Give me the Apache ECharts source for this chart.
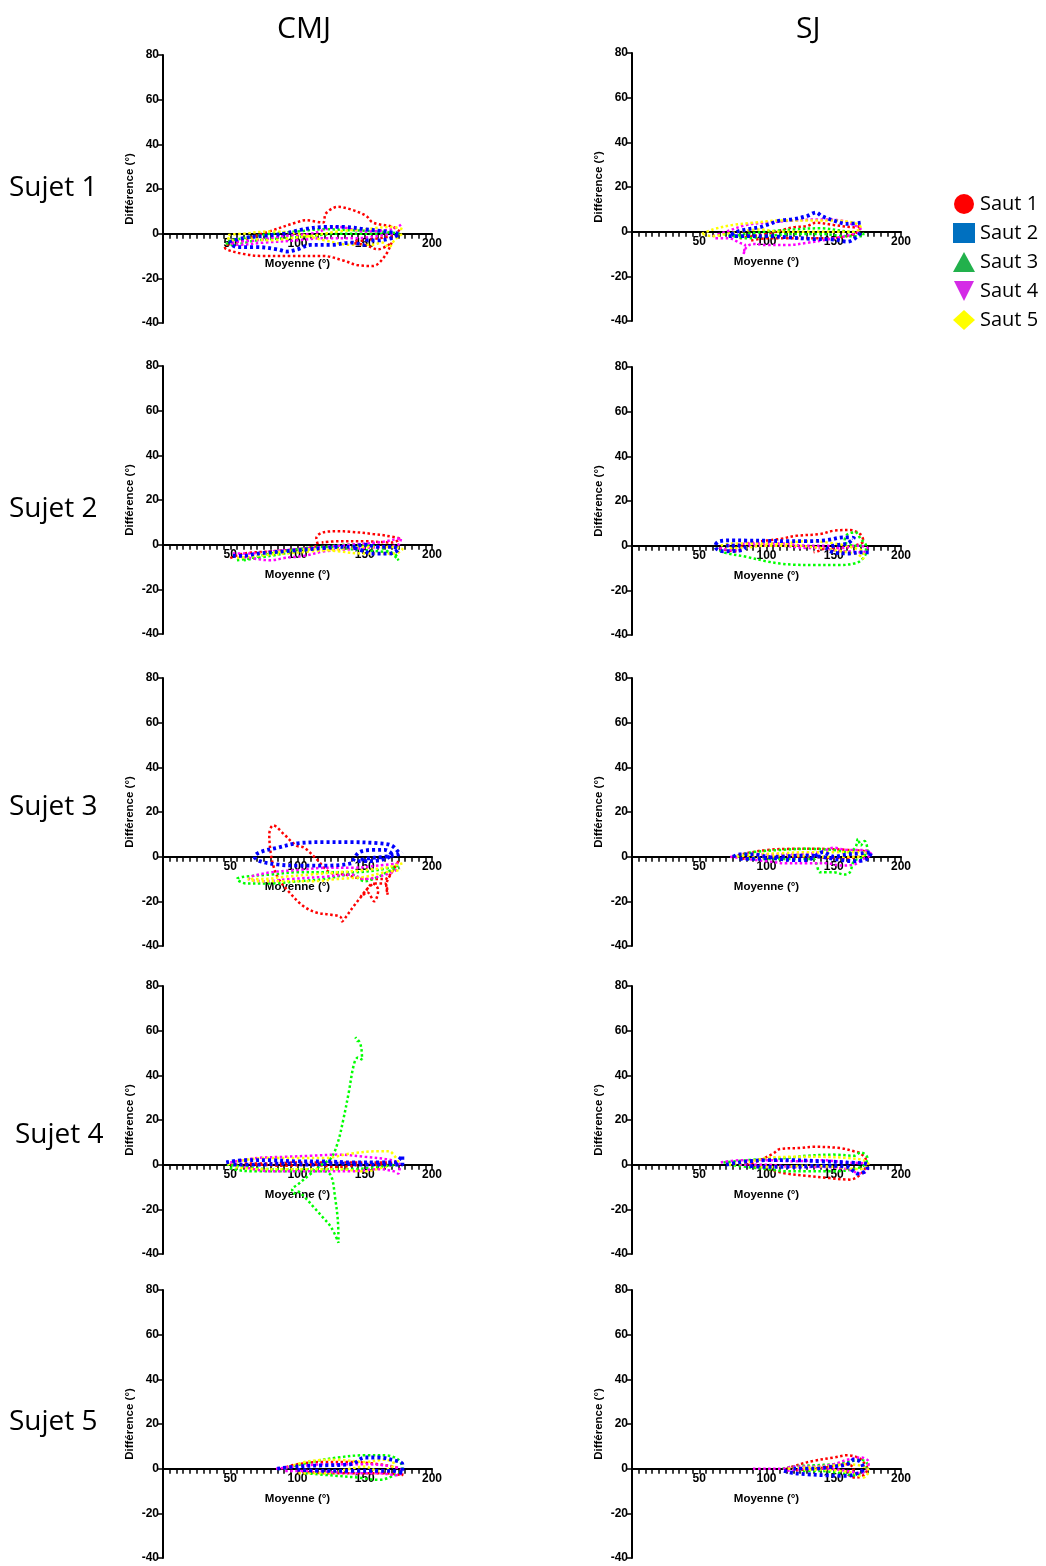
<!DOCTYPE html>
<html>
<head>
<meta charset="utf-8">
<script src="https://cdn.jsdelivr.net/npm/echarts@6/dist/echarts.min.js"></script>
<style>
  html, body { margin: 0; padding: 0; background: #fff; }
  #chart { width: 1046px; height: 1566px; }
</style>
</head>
<body>
<div id="chart"></div>
<script>
// column / row titles
var columnTitles = ["CMJ", "SJ"];
var rowTitles = ["Sujet 1", "Sujet 2", "Sujet 3", "Sujet 4", "Sujet 5"];
var sautNames = ["Saut 1", "Saut 2", "Saut 3", "Saut 4", "Saut 5"];
var sautColors = ["#FF0000", "#0000FF", "#00FF00", "#FF00FF", "#FFFF00"];
var legendColors = ["#FF0000", "#0070C0", "#22B14C", "#D42BE6", "#FFFF00"];
var xTicks = [0, 50, 100, 150, 200];
var yTicks = [-40, -20, 0, 20, 40, 60, 80];

// ---- CMJ, Sujet 1 ----  [moyenne, difference]
var cmj1Saut1 = [[176,1],[171,3],[156,5],[151,8],[139,11],[130,12],[121,9],[119,5],[106,6],[99,5],[79,1],[59,-3],[46,-6],[47,-7],[59,-9],[74,-10],[94,-10],[119,-10],[134,-12],[144,-14],[156,-14.5],[165,-10],[170,-4],[160,-7],[150,-5],[140,-4],[150,-3],[173,-1]];
var cmj1Saut2 = [[175,0],[165,1],[150,2],[135,3],[120,3],[105,2],[90,0],[75,-1],[60,-2],[50,-4],[55,-6],[70,-6],[85,-7],[92,-8],[100,-7],[110,-5],[125,-5],[140,-4],[150,-5],[152,-3],[160,-3],[170,-2],[176,0]];
var cmj1Saut3 = [[176,0],[160,1],[140,1.5],[120,2],[100,1],[80,0],[60,-2],[47,-4],[50,-5],[70,-3],[90,-2],[110,-1],[130,0],[150,0],[170,0]];
var cmj1Saut4 = [[177,4],[170,2],[150,1],[130,3],[110,0],[90,-1],[70,-3],[50,-4],[55,-5],[75,-4],[100,-3],[120,-2],[145,-2],[160,-1],[172,0]];
var cmj1Saut5 = [[178,2],[170,3],[150,2],[130,1],[110,-1],[95,-2],[80,-3],[60,-2],[50,-3],[48,-1],[60,0],[80,1],[100,0],[120,-3],[140,-5],[155,-5],[163,-4],[168,-6],[172,-3],[178,0]];

// ---- CMJ, Sujet 2 ----
var cmj2Saut1 = [[50,-6],[60,-4],[80,-3],[100,-2],[115,0],[114,3],[119,5.5],[130,6],[139,5.8],[156,4.8],[166,4],[176,2.5],[170,1],[150,1.5],[130,1.5],[118,1]];
var cmj2Saut2 = [[52,-5],[60,-5],[70,-4],[80,-3.5],[90,-3],[100,-2.5],[110,-2],[120,-1.5],[130,-1],[140,-1],[150,0],[160,-1],[170,-1],[175,-2],[168,-4],[155,-4],[150,-3],[140,-1]];
var cmj2Saut3 = [[55,-7],[65,-6],[80,-4],[100,-2],[120,-1],[140,-2],[160,-3],[172,-4],[175,-7],[172,-5],[160,-1],[140,0],[120,-1],[100,-3],[80,-5],[60,-7]];
var cmj2Saut4 = [[52,-4],[65,-4],[80,-3],[100,-2],[120,-1],[140,0],[160,1],[170,2],[177,3],[175,0],[160,-1],[140,-2],[120,-3],[105,-5],[90,-6],[80,-7],[65,-6],[55,-5]];
var cmj2Saut5 = [[55,-6],[70,-5],[90,-4],[110,-3],[130,-2],[150,-1],[170,-1],[178,-2],[172,-4],[150,-4],[130,-3],[110,-2],[90,-3],[70,-4]];

// ---- CMJ, Sujet 3 ----
var cmj3Saut1 = [[175,-2],[170,-7],[165,-10],[150,-10],[135,-8],[124,-7],[114,-1],[105,4],[99,5],[90,10],[82,14],[79,10],[80,2],[82,-4],[86,-10],[94,-16],[104,-22],[114,-25],[125,-26],[132,-27],[133,-29],[136,-27],[142,-22],[150,-16],[156,-12],[160,-15],[157,-20],[152,-16],[147,-18],[158,-12],[165,-12],[167,-17],[166,-13],[170,-7],[174,-3]];
var cmj3Saut2 = [[175,2],[170,5],[160,6],[140,6.5],[120,6.5],[100,6],[85,4],[72,2],[68,0],[72,-2],[85,-3.5],[100,-4],[120,-4],[140,-3],[142,-1],[146,2],[155,3],[165,3],[170,1],[165,-1],[155,-2],[145,-2],[150,-1],[165,0],[175,1],[178,2]];
var cmj3Saut3 = [[175,-4],[160,-6],[140,-7],[120,-7],[100,-7],[80,-8],[60,-9],[55,-10],[62,-12],[80,-12],[100,-11],[120,-10],[140,-8],[150,-11],[160,-9],[170,-6],[176,-5]];
var cmj3Saut4 = [[175,-3],[160,-4],[140,-5],[120,-5],[100,-6],[80,-7],[65,-9],[64,-10],[75,-11],[95,-10],[120,-9],[140,-8],[150,-10],[160,-9],[170,-7],[176,-5]];
var cmj3Saut5 = [[178,-3],[165,-5],[150,-6],[130,-7],[110,-8],[90,-9],[75,-10],[63,-10],[70,-11],[90,-11],[110,-11],[130,-10],[150,-9],[165,-7],[177,-6]];

// ---- CMJ, Sujet 4 ----
var cmj4Saut1 = [[50,0],[70,0],[90,-0.5],[110,0],[130,-1],[150,0],[170,0],[175,1],[165,1],[140,1],[120,1],[100,1],[80,0.5],[60,0.5]];
var cmj4Saut2 = [[47,1],[60,2],[80,2],[100,1.5],[120,1.5],[140,1],[160,1],[172,1],[178,4],[178,0],[170,0],[150,0],[130,0.5],[110,0],[90,0.5],[70,0],[50,0]];
var cmj4Saut3 = [[175,0],[160,-1],[140,-2],[120,-2],[100,-2],[80,-2],[60,-1],[48,0],[52,-2],[70,-3],[95,-3],[110,-3],[120,-3],[125,-5],[128,-15],[130,-25],[130.5,-35],[125,-28],[118,-23],[112,-19],[106,-15],[100,-12],[97,-13],[96,-11],[100,-9],[108,-5],[118,0],[125,3],[130,10],[134,20],[138,32],[142,45],[145,48],[148,47],[147.5,52],[146,55],[143,57],[145,55]];
var cmj4Saut4 = [[50,1],[70,3],[90,3.5],[110,4],[130,4.5],[150,3.5],[170,2],[176,0],[175,-4],[172,-3],[160,-2],[140,-3],[120,-3],[100,-3],[80,-3],[60,-1]];
var cmj4Saut5 = [[48,0],[60,2],[80,3],[100,3],[120,3],[140,5],[160,6],[168,6],[172,4],[175,1],[165,-1],[150,-3],[130,-2],[110,-2],[90,-2],[70,-2],[52,-1]];

// ---- CMJ, Sujet 5 ----
var cmj5Saut1 = [[88,0],[100,2],[120,3],[140,3],[160,2],[176,0],[178,-3],[165,-2],[140,-2],[120,-2],[100,-1]];
var cmj5Saut2 = [[85,0],[100,1],[120,1.5],[140,2],[150,5],[160,5],[170,4],[178,2],[178,-2],[170,-1],[160,-1],[140,-1],[120,-1],[100,-0.5]];
var cmj5Saut3 = [[90,0],[110,3],[130,5],[150,6],[165,6],[175,4],[178,0],[172,-3],[160,-5],[145,-4],[125,-3],[105,-2]];
var cmj5Saut4 = [[84,0],[100,1],[120,2],[150,2],[170,1],[178,-1],[175,-3],[160,-2],[140,-2],[110,-1],[90,-1]];
var cmj5Saut5 = [[90,0],[110,3.5],[130,4],[150,3],[165,4],[172,2],[168,0],[160,-1],[150,1],[140,0],[120,-2],[100,-2]];

// ---- SJ, Sujet 1 ----
var sj1Saut1 = [[80,-3],[90,-2],[100,-1],[110,0.5],[120,2],[130,2.5],[137,4],[150,3],[165,2],[170,2.5],[168,0],[160,-2],[145,-3],[130,-3],[115,-3],[100,-3],[88,-4]];
var sj1Saut2 = [[170,4],[160,3.5],[150,5],[141,7],[137,8.6],[130,7],[120,5.6],[110,4.9],[100,3],[95,2],[85,1],[78,0],[72,-2],[80,-2],[100,-2],[115,-2.5],[135,-3.3],[150,-3.5],[160,-4.5],[168,-2],[170,0]];
var sj1Saut3 = [[68,-1],[75,-2],[85,-1],[100,0],[120,1],[140,1.5],[160,0],[172,-1],[172,-2],[160,-2],[140,-1],[120,-1],[100,-2],[85,-3],[75,-2]];
var sj1Saut4 = [[60,-2],[70,0],[85,3],[100,4],[120,5],[140,5.5],[155,5],[165,3],[170,1],[165,-1],[150,-3],[130,-5],[115,-6],[100,-6],[90,-5.5],[85,-7],[83,-10],[84,-6],[80,-5],[72,-3],[62,-3]];
var sj1Saut5 = [[52,-1],[60,1],[75,3],[90,4],[110,5],[130,5],[150,5],[165,4],[170,2],[165,0],[150,0],[130,0],[110,0],[95,1],[80,0],[70,-1],[60,-2],[52,-1]];

// ---- SJ, Sujet 2 ----
var sj2Saut1 = [[65,-1],[70,-2],[78,-2.5],[82,-1],[80,0],[90,1.5],[110,3],[122,4.4],[140,5.2],[150,6.7],[162,7],[170,5],[172,2],[165,0],[155,-1],[145,-1],[138,-2.5],[135,-3]];
var sj2Saut2 = [[176,-3],[170,-3],[160,-3.5],[150,-3],[145,-1.5],[150,0],[160,1],[165,3.5],[157,3.7],[145,2.5],[130,2],[115,2],[100,2.2],[85,2.3],[75,2.4],[65,2],[62,0],[63,-1.5],[68,-2.5],[80,-2.2],[84,-1],[80,0],[70,0]];
var sj2Saut3 = [[62,-1],[68,-3],[85,-5],[100,-7],[110,-8],[120,-8.5],[135,-8.7],[155,-8.7],[165,-8],[170,-6.7],[174,-3],[174,0],[170,3],[166,6],[160,5],[158,2],[165,0],[172,0]];
var sj2Saut4 = [[65,-1],[75,-2],[90,0],[110,0],[130,-1],[140,-1],[150,-2],[160,-2.5],[172,-3],[175,-1],[168,0],[155,-1],[145,0],[130,0],[110,1],[90,1],[70,0]];
var sj2Saut5 = [[66,0],[75,1],[90,1],[110,1],[130,2],[150,1],[165,-1],[172,-3],[172,-6],[168,-4],[160,-3],[150,-2],[140,-1],[120,0],[100,0],[80,-1],[70,-1]];

// ---- SJ, Sujet 3 ----
var sj3Saut1 = [[75,0],[85,1.5],[100,3],[120,3.5],[140,3.5],[160,3],[175,2],[170,0],[150,-0.5],[130,0],[110,0],[90,-0.5],[80,-1]];
var sj3Saut2 = [[75,0],[80,1],[90,1],[100,0],[110,-1],[120,-1.5],[130,-1.5],[142,2],[150,0],[160,1],[170,1.5],[178,2],[175,-1],[165,-2],[150,-1],[140,0],[130,0.5],[110,0],[90,-1],[80,-1]];
var sj3Saut3 = [[76,0],[90,2],[110,3],[130,3.5],[150,3],[160,2],[166,4],[168,8],[170,5],[173,7],[175,3],[172,0],[165,-2],[162,-7],[158,-8],[150,-7],[140,-7],[137,-3],[135,-1],[120,-1],[100,-1],[85,-1]];
var sj3Saut4 = [[73,0],[85,-1],[100,-2],[115,-3],[130,-3],[145,-3],[155,-4],[165,-3.5],[172,-1],[178,1],[172,3],[160,3],[150,4],[140,2],[120,1],[100,1],[85,1]];
var sj3Saut5 = [[78,0],[90,1],[110,1.5],[130,2],[150,2],[165,2],[175,2],[170,0],[155,0],[140,0],[120,0.5],[100,0],[85,-0.5]];

// ---- SJ, Sujet 4 ----
var sj4Saut1 = [[85,0],[95,2],[105,5],[110,7],[125,7.5],[135,8],[155,7.4],[165,6],[170,5],[174,2],[172,-3],[162,-6.7],[147,-6],[130,-5],[115,-4],[100,-2],[90,-1]];
var sj4Saut2 = [[70,0],[80,1],[100,2],[120,2],[140,1.5],[160,1],[175,0],[175,-2],[168,-4],[160,-1],[140,-0.5],[120,-1],[100,-1],[85,-0.5]];
var sj4Saut3 = [[68,1],[85,2],[100,2.5],[115,3],[130,4],[150,4.5],[165,4],[170,5.5],[175,3],[173,0],[165,-2],[150,-3],[130,-3],[115,-3],[100,-2],[85,-1],[72,0]];
var sj4Saut4 = [[66,1],[80,2],[100,2],[120,1.5],[140,2],[160,1],[175,0],[174,-3],[170,-4],[160,-2],[140,-1],[120,-1],[100,0],[80,0]];
var sj4Saut5 = [[72,0],[85,1],[100,3],[120,3.5],[140,3.5],[160,3],[172,2],[176,0],[170,-2],[150,-1],[130,-0.5],[110,-1],[90,-1]];

// ---- SJ, Sujet 5 ----
var sj5Saut1 = [[115,0],[125,2],[135,3.5],[150,5],[160,6],[168,5],[172,3],[175,0],[172,-3],[166,-4],[160,-2],[165,0],[160,2],[150,1],[135,0],[120,-1]];
var sj5Saut2 = [[113,-1],[120,-2],[130,-2.5],[145,-3],[160,-3.2],[168,-2],[172,0],[170,3],[165,4],[160,2],[150,1],[135,0],[120,0]];
var sj5Saut3 = [[112,0],[120,1],[135,1.5],[150,2],[160,3],[170,4],[175,2],[173,-1],[165,-3],[155,-2],[140,-1],[125,-1]];
var sj5Saut4 = [[90,0],[100,0],[112,0],[120,1],[135,1],[150,2],[160,4],[170,5],[176,3],[175,0],[170,-2],[160,-1],[145,0],[130,0],[115,-1]];
var sj5Saut5 = [[116,0],[130,0.5],[145,1],[160,2],[172,1],[176,-1],[172,-4],[165,-2],[155,-1],[140,-0.5],[125,-0.5]];

var cmjPanels = [
  [cmj1Saut1, cmj1Saut2, cmj1Saut3, cmj1Saut4, cmj1Saut5],
  [cmj2Saut1, cmj2Saut2, cmj2Saut3, cmj2Saut4, cmj2Saut5],
  [cmj3Saut1, cmj3Saut2, cmj3Saut3, cmj3Saut4, cmj3Saut5],
  [cmj4Saut1, cmj4Saut2, cmj4Saut3, cmj4Saut4, cmj4Saut5],
  [cmj5Saut1, cmj5Saut2, cmj5Saut3, cmj5Saut4, cmj5Saut5]
];
var sjPanels = [
  [sj1Saut1, sj1Saut2, sj1Saut3, sj1Saut4, sj1Saut5],
  [sj2Saut1, sj2Saut2, sj2Saut3, sj2Saut4, sj2Saut5],
  [sj3Saut1, sj3Saut2, sj3Saut3, sj3Saut4, sj3Saut5],
  [sj4Saut1, sj4Saut2, sj4Saut3, sj4Saut4, sj4Saut5],
  [sj5Saut1, sj5Saut2, sj5Saut3, sj5Saut4, sj5Saut5]
];

// layout (pixels)
var colLeft = [163, 632];
var colTops = [[55, 366, 678, 986, 1290], [53, 367, 678, 986, 1290]];
var gridW = 269, gridH = 268;
// x axis sits on difference = 0, i.e. 40/120 of the height above the bottom
var zeroOffset = -gridH * (0 - yTicks[0]) / (yTicks[yTicks.length - 1] - yTicks[0]);

var chart = echarts.init(document.getElementById("chart"));

var grids = [], xAxes = [], yAxes = [], series = [];
var tickFont = { color: "#000", fontWeight: "bold", fontSize: 12, fontFamily: "Liberation Sans, Arial" };
var nameFont = { color: "#000", fontWeight: "bold", fontSize: 11.5, fontFamily: "Liberation Sans, Arial" };

[cmjPanels, sjPanels].forEach(function (panels, c) {
  panels.forEach(function (panel, r) {
    var g = grids.length;
    grids.push({ left: colLeft[c], top: colTops[c][r], width: gridW, height: gridH, containLabel: false });
    xAxes.push({
      gridIndex: g, type: "value", min: xTicks[0], max: xTicks[xTicks.length - 1], interval: 50,
      position: "bottom", offset: zeroOffset,
      axisLine: { onZero: false, lineStyle: { color: "#000", width: 2 } },
      axisTick: { length: 5, lineStyle: { color: "#000", width: 1.5 } },
      minorTick: { show: true, splitNumber: 10, length: 5, lineStyle: { color: "#000", width: 1.5 } },
      splitLine: { show: false },
      axisLabel: Object.assign({ margin: 4, formatter: function (v) { return v === 0 ? "" : v; } }, tickFont),
      name: "Moyenne (°)", nameLocation: "middle", nameGap: 24,
      nameTextStyle: nameFont
    });
    yAxes.push({
      gridIndex: g, type: "value", min: yTicks[0], max: yTicks[yTicks.length - 1], interval: 20,
      axisLine: { onZero: false, lineStyle: { color: "#000", width: 2 } },
      axisTick: { length: 5, lineStyle: { color: "#000", width: 1.5 } },
      splitLine: { show: false },
      axisLabel: Object.assign({ margin: 4 }, tickFont),
      name: "Différence (°)", nameLocation: "middle", nameGap: 27,
      nameTextStyle: nameFont
    });
    panel.forEach(function (pts, k) {
      series.push({
        name: sautNames[k], type: "line", xAxisIndex: g, yAxisIndex: g,
        data: pts, showSymbol: false, smooth: 0.35,
        lineStyle: {
          color: sautColors[k],
          width: k === 1 ? 3.8 : 2.5,
          type: k === 1 ? [3, 3] : [2.5, 2.5]
        },
        itemStyle: { color: sautColors[k] },
        z: k === 1 ? 3 : 2
      });
    });
  });
});

var icons = ["circle", "rect", "triangle", "path://M0,0 L10,0 L5,10 Z", "diamond"];

var graphics = [];
columnTitles.forEach(function (t, c) {
  graphics.push({ type: "text", left: c === 0 ? 277 : 796, top: 14,
    style: { text: t, fontSize: 30, fontFamily: "Open Sans", fill: "#000" } });
});
var rowY = [186, 507, 805, 1133, 1420];
rowTitles.forEach(function (t, r) {
  graphics.push({ type: "text", left: r === 3 ? 15 : 9, top: rowY[r] - 12,
    style: { text: t, fontSize: 28, fontFamily: "Open Sans", fill: "#000" } });
});

chart.setOption({
  animation: false,
  backgroundColor: "#fff",
  grid: grids,
  xAxis: xAxes,
  yAxis: yAxes,
  series: series,
  legend: {
    orient: "vertical", left: 948, top: 189, itemWidth: 22, itemHeight: 20, itemGap: 9,
    selectedMode: false,
    textStyle: { fontSize: 20, fontFamily: "Open Sans", color: "#000" },
    data: sautNames.map(function (n, k) {
      return { name: n, icon: icons[k], itemStyle: { color: legendColors[k], borderWidth: 0 } };
    })
  },
  graphic: graphics
});
</script>
</body>
</html>
